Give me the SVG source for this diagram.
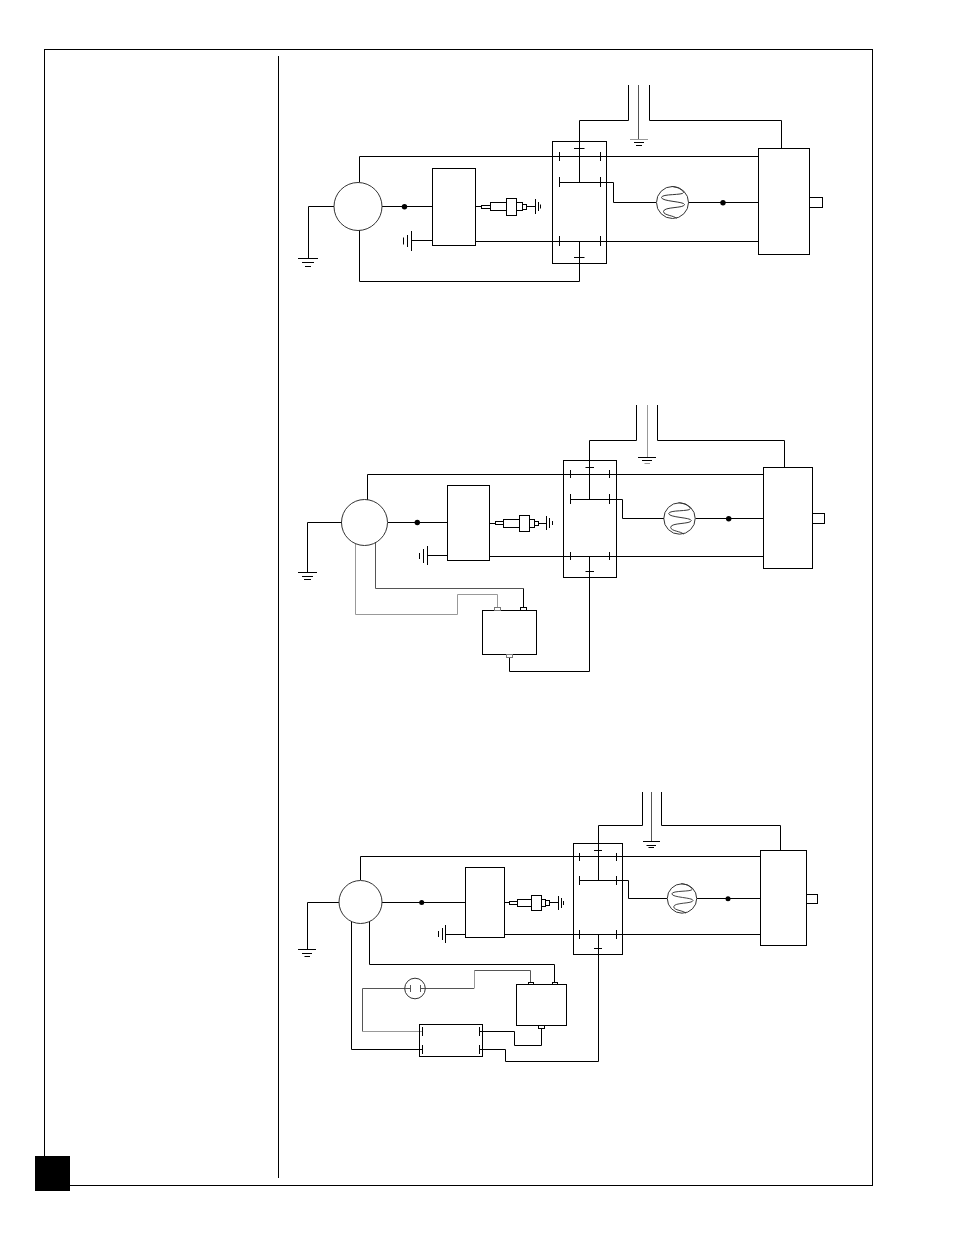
<svg xmlns="http://www.w3.org/2000/svg" xmlns:xlink="http://www.w3.org/1999/xlink" width="954" height="1235" viewBox="0 0 954 1235">
<style>
.w{fill:none;stroke:#000;stroke-width:1}
.b{fill:none;stroke:#000;stroke-width:1}
.t{fill:#fff;stroke:#000;stroke-width:1}
.c{fill:none;stroke:#333;stroke-width:1}
.lg{fill:none;stroke:#999;stroke-width:1}
.dg{fill:none;stroke:#555;stroke-width:1}
.gnd{fill:none;stroke:#000;stroke-width:1}
.ggnd{fill:none;stroke:#999;stroke-width:1}
.coil{fill:none;stroke:#333;stroke-width:1}
.dot{fill:#000}
</style>
<defs>
<g id="heater-coil"><path class="coil" d="M-1,-16C5,-16 11,-12 11,-10C11,-7 -11,-9 -11,-5C-11,-1 12,-1 12,2C12,6 -9,4 -9,9C-9,13 2,13 4,16"/></g>
</defs>
<g id="frame">
<rect class="b" x="44.500" y="49.500" width="828" height="1136"/>
<path class="w" d="M278.500,56V1178"/>
<rect x="35" y="1156" width="35" height="35" fill="#000"/>
</g>
<g id="connectors">
<!-- diagram 1 -->
<path class="w" d="M359.500,182V156.500H758"/>
<path class="w" d="M359.500,230V281.500H579.500V241.500"/>
<path class="w" d="M334,206.500H308.500V258"/>
<path class="w" d="M382,206.500H432"/>
<path class="w" d="M411.500,240.500H432"/>
<path class="w" d="M475.500,206.500H481"/>
<path class="w" d="M526.500,206.500H535"/>
<path class="w" d="M475.500,241.500H758"/>
<path class="w" d="M559.500,182.500H613.500V202.500H656"/>
<path class="w" d="M628.500,85V120.500H579.500V182.500"/>
<path class="w" d="M649.500,85V120.500H781.500V148"/>
<path class="dg" d="M638.500,85V139"/>
<path class="w" d="M688.500,202.500H758"/>
<!-- diagram 2 -->
<path class="w" d="M367.500,500V474.500H763"/>
<path class="w" d="M342,522.500H307.500V572"/>
<path class="w" d="M388,522.500H447"/>
<path class="w" d="M427.500,555.500H447"/>
<path class="w" d="M490,523.500H495"/>
<path class="w" d="M538.500,523.500H546"/>
<path class="w" d="M490,556.500H763"/>
<path class="w" d="M570.500,499.500H622.500V518.500H664"/>
<path class="w" d="M636.500,405V440.500H589.500V499.500"/>
<path class="w" d="M657.500,405V440.500H784.500V467"/>
<path class="lg" d="M647.500,405V457"/>
<path class="w" d="M695.500,518.500H763"/>
<path class="w" d="M589.500,556.500V671.500H509.500V658"/>
<path class="lg" d="M355.500,543V614.500H457.500V594.500H497.500V607"/>
<path class="dg" d="M375.500,542V588.500H523.500"/>
<path class="w" d="M523.500,588.500V607"/>
<!-- diagram 3 -->
<path class="w" d="M360.500,880V856.500H760"/>
<path class="w" d="M339,902.500H307.500V949"/>
<path class="w" d="M382,902.500H465"/>
<path class="w" d="M445.500,934.500H465"/>
<path class="w" d="M504.500,902.500H509"/>
<path class="w" d="M549.500,902.500H558"/>
<path class="w" d="M504.500,934.500H760"/>
<path class="w" d="M579.500,880.500H628.500V898.500H667"/>
<path class="w" d="M642.500,792V825.500H598.500V880.500"/>
<path class="w" d="M661.500,792V825.500H780.500V850"/>
<path class="dg" d="M651.500,792V841"/>
<path class="w" d="M697,898.500H760"/>
<path class="w" d="M598.500,934.500V1061.500H505.500V1049.500H479.500"/>
<path class="w" d="M369.500,921V964.500H554.500V982"/>
<path class="w" d="M351.500,921V1049.500H422.500"/>
<path class="w" d="M479.500,1031.500H514.500V1045.500H541.500V1029"/>
<path class="dg" d="M425,988.500H474"/>
<path class="lg" d="M474.500,988.500V970.500"/>
<path class="dg" d="M474.500,970.500H530.500V982"/>
<path class="dg" d="M405,988.500H362.500V1031.500"/>
<path class="lg" d="M362.500,1031.500H422.500"/>
</g>
<g id="d1-source"><circle class="c" cx="358" cy="206.500" r="24"/></g>
<g id="d1-ground-left"><path class="gnd" d="M298,258.500H318M302,262.500H314M305,266.500H311"/></g>
<g id="d1-dot"><circle class="dot" cx="404.500" cy="206.800" r="2.700"/></g>
<g id="d1-control"><rect class="b" x="432.500" y="168.500" width="43" height="77"/></g>
<g id="d1-ground-control"><path class="gnd" d="M411.500,231V251M407.500,235V247M403.500,237.500V244.500"/></g>
<g id="d1-spark">
<rect class="b" x="481.500" y="205.500" width="9" height="3"/>
<rect class="b" x="490.500" y="202.500" width="16" height="8"/>
<rect class="b" x="506.500" y="198.500" width="10" height="17"/>
<rect class="b" x="516.500" y="202.500" width="6" height="8"/>
<rect class="b" x="522.500" y="204.500" width="4" height="5"/>
<path class="gnd" d="M535.500,199V214M538.500,202V211M540.500,204.500V208.500"/>
</g>
<g id="d1-relay">
<rect class="b" x="552.500" y="141.500" width="54" height="122"/>
<path class="w" d="M559.500,152V161M600.500,152V161M559.500,177V187M600.500,177V187M559.500,236V246M600.500,236V246M574,148.500H584.500M574,257.500H584.500"/>
</g>
<g id="d1-ground-mid"><path class="ggnd" d="M630,139.500H648"/><path class="gnd" d="M634,142.500H644M636,145.500H642"/></g>
<g id="d1-heater"><circle class="c" cx="672.500" cy="202.500" r="16"/><use xlink:href="#heater-coil" href="#heater-coil" transform="translate(672.500 202.500)"/></g>
<g id="d1-dot2"><circle class="dot" cx="723" cy="202.800" r="2.700"/></g>
<g id="d1-motor"><rect class="b" x="758.500" y="148.500" width="51" height="106"/><rect class="b" x="809.500" y="197.500" width="13" height="10"/></g>

<g id="d2-source"><circle class="c" cx="364.500" cy="522.500" r="23"/></g>
<g id="d2-ground-left"><path class="gnd" d="M298,572.500H317M302,576.500H313M304,579.500H311"/></g>
<g id="d2-dot"><circle class="dot" cx="417.300" cy="522.500" r="2.700"/></g>
<g id="d2-control"><rect class="b" x="447.500" y="485.500" width="42" height="75"/></g>
<g id="d2-ground-control"><path class="gnd" d="M427.500,546V565M423.500,549V563M419.500,553V559"/></g>
<g id="d2-spark">
<rect class="b" x="495.500" y="521.500" width="8" height="3"/>
<rect class="b" x="503.500" y="519.500" width="16" height="8"/>
<rect class="b" x="519.500" y="515.500" width="10" height="16"/>
<rect class="b" x="529.500" y="519.500" width="5" height="8"/>
<rect class="b" x="534.500" y="521.500" width="4" height="4"/>
<path class="gnd" d="M546.500,516V530M549.500,518V528M552.500,521V525"/>
</g>
<g id="d2-relay">
<rect class="b" x="563.500" y="460.500" width="53" height="117"/>
<path class="w" d="M570.500,470V478M609.500,470V478M570.500,494V504M609.500,494V504M570.500,552V560M609.500,552V560M585.500,467.500H594M585.500,571.500H594"/>
</g>
<g id="d2-ground-mid"><path class="gnd" d="M638,457.500H656M642,460.500H652"/><path class="ggnd" d="M644.500,463.500H650"/></g>
<g id="d2-heater"><circle class="c" cx="679.500" cy="518.500" r="15.700"/><use xlink:href="#heater-coil" href="#heater-coil" transform="translate(679.500 518.500) scale(.98)"/></g>
<g id="d2-dot2"><circle class="dot" cx="728.700" cy="518.700" r="2.700"/></g>
<g id="d2-motor"><rect class="b" x="763.500" y="467.500" width="49" height="101"/><rect class="b" x="812.500" y="513.500" width="12" height="10"/></g>
<g id="d2-module">
<rect class="b" x="482.500" y="610.500" width="54" height="44"/>
<rect x="494.500" y="607.500" width="6" height="3" fill="#fff" stroke="#777"/>
<rect class="t" x="520.500" y="607.500" width="6" height="3"/>
<rect x="506.500" y="654.500" width="6" height="3" fill="#fff" stroke="#777"/>
</g>

<g id="d3-source"><circle class="c" cx="360.500" cy="902" r="21.500"/></g>
<g id="d3-ground-left"><path class="gnd" d="M298,949.500H316M302,953.500H312M304.500,956.500H310"/></g>
<g id="d3-dot"><circle class="dot" cx="421.700" cy="902.500" r="2.500"/></g>
<g id="d3-control"><rect class="b" x="465.500" y="867.500" width="39" height="70"/></g>
<g id="d3-ground-control"><path class="gnd" d="M445.500,925V943M442.500,928V940M438.500,931V937"/></g>
<g id="d3-spark">
<rect class="b" x="509.500" y="901.500" width="8" height="3"/>
<rect class="b" x="517.500" y="899.500" width="14" height="7"/>
<rect class="b" x="531.500" y="895.500" width="10" height="15"/>
<rect class="b" x="541.500" y="899.500" width="4" height="7"/>
<rect class="b" x="545.500" y="900.500" width="4" height="5"/>
<path class="gnd" d="M558.500,896V910M561.500,898V908M563.500,901V905"/>
</g>
<g id="d3-relay">
<rect class="b" x="573.500" y="843.500" width="49" height="111"/>
<path class="w" d="M579.500,853V861M616.500,853V861M579.500,876V885M616.500,876V885M579.500,930V939M616.500,930V939M594,850.500H602M594,948.500H602"/>
</g>
<g id="d3-ground-mid"><path class="gnd" d="M643,841.500H660M646.500,845.500H656M648.500,847.500H654"/></g>
<g id="d3-heater"><circle class="c" cx="682" cy="898.500" r="14.700"/><use xlink:href="#heater-coil" href="#heater-coil" transform="translate(682 898.500) scale(.92)"/></g>
<g id="d3-dot2"><circle class="dot" cx="728" cy="898.700" r="2.500"/></g>
<g id="d3-motor"><rect class="b" x="760.500" y="850.500" width="46" height="95"/><rect class="b" x="806.500" y="894.500" width="11" height="9"/></g>
<g id="d3-module">
<rect class="b" x="516.500" y="984.500" width="50" height="41"/>
<rect class="t" x="528.500" y="982.500" width="5" height="2"/>
<rect class="t" x="552.500" y="982.500" width="5" height="2"/>
<rect class="t" x="538.500" y="1025.500" width="6" height="3"/>
</g>
<g id="d3-switch">
<circle class="c" cx="415" cy="988.500" r="10.300"/>
<path class="dg" d="M410.500,985V992M420.500,985V992"/>
<path class="dg" d="M405,988.500H410.500M420.500,988.500H425"/>
</g>
<g id="d3-box">
<rect class="b" x="419.500" y="1024.500" width="63" height="32"/>
<path class="w" d="M422.500,1027V1036M422.500,1045V1054M479.500,1027V1036M479.500,1045V1054"/>
</g>
</svg>
